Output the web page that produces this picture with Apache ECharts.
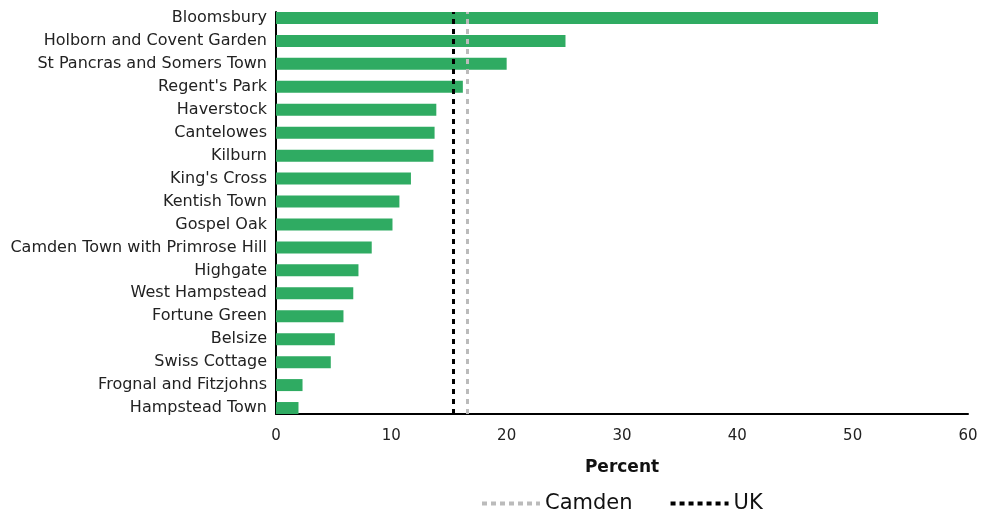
<!DOCTYPE html>
<html><head><meta charset="utf-8">
<script src="https://cdn.jsdelivr.net/npm/echarts@6/dist/echarts.min.js"></script>
<style>html,body{margin:0;padding:0;background:#fff}#c{width:983px;height:513px}</style>
</head><body><div id="c"></div>
<script>
const categories = ["Bloomsbury","Holborn and Covent Garden","St Pancras and Somers Town","Regent's Park","Haverstock","Cantelowes","Kilburn","King's Cross","Kentish Town","Gospel Oak","Camden Town with Primrose Hill","Highgate","West Hampstead","Fortune Green","Belsize","Swiss Cottage","Frognal and Fitzjohns","Hampstead Town"];
const values = [52.2,25.1,20.0,16.2,13.9,13.75,13.65,11.7,10.7,10.1,8.3,7.15,6.7,5.85,5.1,4.75,2.3,1.95];
const camdenValue = 16.6;
const ukValue = 15.35;
const xTicks = {min:0, max:60, interval:10};
const FONT = 'DejaVu Sans';
const chart = echarts.init(document.getElementById('c'));
chart.setOption({
  animation:false,
  textStyle:{fontFamily:FONT},
  grid:[
    {left:276,right:15,top:6.5,bottom:93.5},
    {left:276,right:15,top:12,bottom:99}
  ],
  legend:{
    top:488,left:475,itemWidth:58,itemHeight:14,itemGap:36,
    itemStyle:{opacity:0},
    lineStyle:{width:4},
    textStyle:{fontFamily:FONT,fontSize:21,color:'#111'},
    data:['Camden','UK']
  },
  xAxis:[
    {gridIndex:0,type:'value',min:xTicks.min,max:xTicks.max,interval:xTicks.interval,show:false},
    {gridIndex:1,type:'value',min:xTicks.min,max:xTicks.max,interval:xTicks.interval,
      name:'Percent',nameLocation:'middle',nameGap:45,
      nameTextStyle:{fontFamily:FONT,fontSize:17,fontWeight:'bold',color:'#111'},
      axisLine:{show:true,lineStyle:{color:'#000',width:2}},
      axisTick:{show:false},splitLine:{show:false},
      axisLabel:{fontFamily:FONT,fontSize:15,color:'#222',margin:15}}
  ],
  yAxis:[
    {gridIndex:0,type:'category',inverse:true,data:categories,
      axisLine:{show:false},axisTick:{show:false},
      axisLabel:{fontFamily:FONT,fontSize:16,color:'#222',margin:9}},
    {gridIndex:1,type:'value',min:0,max:1,
      axisLine:{show:true,lineStyle:{color:'#000',width:2}},
      axisTick:{show:false},axisLabel:{show:false},splitLine:{show:false}}
  ],
  series:[
    {type:'bar',xAxisIndex:0,yAxisIndex:0,data:values,barWidth:12,itemStyle:{color:'#2fab62'},z:2},
    {name:'Camden',type:'line',xAxisIndex:1,yAxisIndex:1,data:[],symbol:'none',
      lineStyle:{color:'#bbbbbb',width:4,type:[5,4]},itemStyle:{color:'#bbbbbb'},
      markLine:{silent:true,symbol:'none',label:{show:false},
        lineStyle:{color:'#bbbbbb',width:3,type:[5,5]},data:[{xAxis:camdenValue}]},z:3},
    {name:'UK',type:'line',xAxisIndex:1,yAxisIndex:1,data:[],symbol:'none',
      lineStyle:{color:'#000',width:4,type:[5,4]},itemStyle:{color:'#000'},
      markLine:{silent:true,symbol:'none',label:{show:false},
        lineStyle:{color:'#000',width:3,type:[5,5]},data:[{xAxis:ukValue}]},z:3}
  ]
});
</script></body></html>
